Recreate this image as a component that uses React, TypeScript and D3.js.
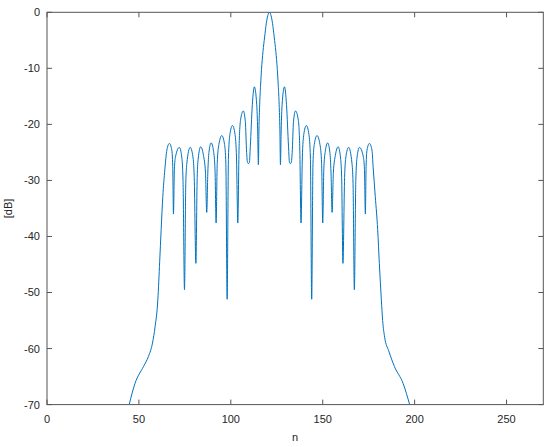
import React, { useRef, useEffect } from "react";
import * as d3 from "d3";

// sample index n and magnitude in dB
const nValues = [
  44.7, 47.9, 52.5, 55.2, 57.4, 58.8, 60.3, 61.3, 62.1, 63.0, 64.1, 65.2,
  66.6, 67.9, 68.4, 68.8, 69.3, 69.9, 72.0, 73.3, 74.0, 74.8, 75.5, 76.1,
  77.9, 79.4, 80.1, 81.0, 81.7, 82.3, 83.6, 85.1, 86.2, 86.9, 87.5, 88.1,
  89.3, 90.6, 91.4, 92.0, 92.6, 93.5, 95.1, 96.6, 97.3, 98.0, 98.7, 99.5,
  100.9, 102.3, 103.1, 103.8, 104.5, 105.3, 106.8, 107.9, 108.6, 109.1, 109.6, 110.1,
  110.6, 111.7, 112.8, 114.1, 114.6, 115.0, 115.3, 115.7, 116.2, 116.7, 117.5, 118.4,
  119.3, 120.1, 121.0, 121.9, 122.7, 123.6, 124.5, 125.3, 125.8, 126.3, 126.7,
  127.0, 127.4, 127.9, 129.2, 130.3, 131.4,
  131.9, 132.4, 132.9, 133.4, 134.1, 135.2, 136.7, 137.5, 138.2, 138.9, 139.7, 141.1,
  142.5, 143.3, 144.0, 144.7, 145.4, 146.9, 148.5, 149.4, 150.0, 150.6, 151.4, 152.7,
  153.9, 154.5, 155.1, 155.8, 156.9, 158.4, 159.7, 160.3, 161.0, 161.9, 162.6, 164.1,
  165.9, 166.5, 167.2, 168.0, 168.7, 170.0, 172.1, 172.7, 173.2, 173.6, 174.1, 175.4,
  176.8, 177.4, 178.6, 179.9, 180.8, 181.9, 182.6, 183.7, 185.9, 189.0, 193.7, 197.3
];
const dbValues = [
  -70, -66.2, -63.2, -61.4, -59.0, -56.1, -51.3, -44.5, -38.8, -32.9, -28.1, -24.6,
  -23.4, -24.6, -27.5, -36.0, -28.0, -25.8, -24.1, -25.8, -30.0, -49.5, -30.5, -26.9,
  -24.1, -25.8, -29.5, -44.8, -29.5, -26.0, -24.0, -25.5, -28.5, -35.7, -28.5, -25.0,
  -23.3, -24.8, -28.0, -37.6, -27.0, -23.6, -22.0, -23.6, -27.0, -51.2, -26.0, -21.8,
  -20.2, -21.8, -26.0, -37.6, -24.0, -19.2, -17.6, -19.5, -25.0, -26.8, -27.0, -26.8,
  -24.0, -16.5, -13.3, -16.5, -21.0, -27.2, -21.0, -16.5, -13.0, -10.2, -7.0, -4.4,
  -2.0, -0.6, 0, -0.6, -2.0, -4.4, -7.0, -10.2, -13.0, -16.5, -21.0,
  -27.2, -21.0, -16.5, -13.3, -16.5, -24.0,
  -26.8, -27.0, -26.8, -25.0, -19.5, -17.6, -19.2, -24.0, -37.6, -26.0, -21.8, -20.2,
  -21.8, -26.0, -51.2, -27.0, -23.6, -22.0, -23.6, -27.0, -37.6, -28.0, -24.8, -23.3,
  -25.0, -28.5, -35.7, -28.5, -25.5, -24.0, -26.0, -29.5, -44.8, -29.5, -25.8, -24.1,
  -26.9, -30.5, -49.5, -30.0, -25.8, -24.1, -25.8, -28.0, -36.0, -27.5, -24.6, -23.4,
  -24.6, -27.5, -32.9, -38.8, -44.8, -51.3, -55.0, -58.0, -60.4, -63.2, -66.2, -70
];
const xTicks = [0, 50, 100, 150, 200, 250];
const yTicks = [0, -10, -20, -30, -40, -50, -60, -70];

const App = () => {
  const chart = useRef<SVGSVGElement>(null);

  useEffect(() => {
    const width = 550;
    const height = 447;
    const left = 47, right = 543.3, top = 12.3, bottom = 404.6;
    const axisColor = "#555";
    const font = "'Liberation Sans', Arial, sans-serif";

    const svg = d3.select(chart.current);
    svg.selectAll("*").remove();
    svg.attr("width", width).attr("height", height);

    const x = d3.scaleLinear().domain([0, 270]).range([left, right]);
    const y = d3.scaleLinear().domain([-70, 0]).range([bottom, top]);

    svg.append("rect").attr("width", width).attr("height", height).attr("fill", "#fff");

    svg.append("clipPath").attr("id", "plotClip")
      .append("rect")
      .attr("x", left).attr("y", top)
      .attr("width", right - left).attr("height", bottom - top);

    const data = nValues.map((n, i) => [n, dbValues[i]] as [number, number]);
    const line = d3.line<[number, number]>()
      .x(d => x(d[0]))
      .y(d => y(d[1]))
      .curve(d3.curveMonotoneX);

    svg.append("path")
      .datum(data)
      .attr("clip-path", "url(#plotClip)")
      .attr("fill", "none")
      .attr("stroke", "#0072bd")
      .attr("stroke-width", 1)
      .attr("stroke-linejoin", "round")
      .attr("d", line);

    // axes box with inward ticks on all four sides
    const g = svg.append("g").attr("stroke", axisColor).attr("fill", "none");
    g.append("rect")
      .attr("x", left).attr("y", top)
      .attr("width", right - left).attr("height", bottom - top)
      .attr("stroke-width", 1);

    const tick = 5;
    xTicks.forEach(t => {
      g.append("line").attr("x1", x(t)).attr("x2", x(t)).attr("y1", bottom).attr("y2", bottom - tick);
      g.append("line").attr("x1", x(t)).attr("x2", x(t)).attr("y1", top).attr("y2", top + tick);
    });
    yTicks.forEach(t => {
      g.append("line").attr("x1", left).attr("x2", left + tick).attr("y1", y(t)).attr("y2", y(t));
      g.append("line").attr("x1", right).attr("x2", right - tick).attr("y1", y(t)).attr("y2", y(t));
    });

    svg.append("g")
      .selectAll("text")
      .data(xTicks)
      .join("text")
      .attr("x", d => x(d))
      .attr("y", bottom + 18)
      .attr("text-anchor", "middle")
      .attr("font-family", font)
      .attr("font-size", 11)
      .attr("fill", "#262626")
      .text(d => d);

    svg.append("g")
      .selectAll("text")
      .data(yTicks)
      .join("text")
      .attr("x", left - 7)
      .attr("y", d => y(d))
      .attr("dy", "0.36em")
      .attr("text-anchor", "end")
      .attr("font-family", font)
      .attr("font-size", 11)
      .attr("fill", "#262626")
      .text(d => d);

    svg.append("text")
      .attr("x", (left + right) / 2)
      .attr("y", 441)
      .attr("text-anchor", "middle")
      .attr("font-family", font)
      .attr("font-size", 11)
      .attr("fill", "#262626")
      .text("n");

    svg.append("text")
      .attr("transform", `translate(12, ${(top + bottom) / 2}) rotate(-90)`)
      .attr("text-anchor", "middle")
      .attr("font-family", font)
      .attr("font-size", 11)
      .attr("fill", "#262626")
      .text("[dB]");
  }, []);

  return (
    <div style={{ position: "absolute", left: 0, top: 0 }}>
      <svg ref={chart} style={{ display: "block" }} />
    </div>
  );
};

export default App;
